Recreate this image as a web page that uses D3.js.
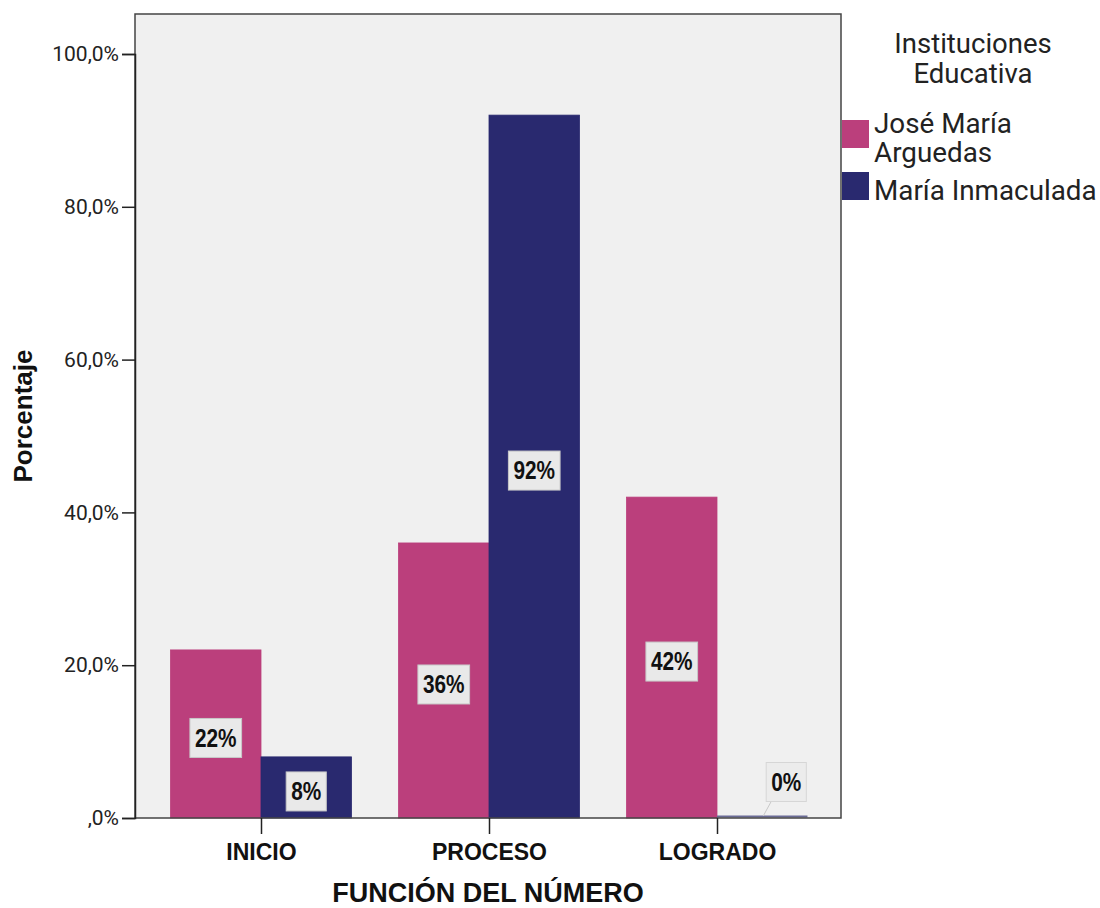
<!DOCTYPE html>
<html>
<head>
<meta charset="utf-8">
<script src="https://cdn.jsdelivr.net/npm/d3@7"></script>
<style>
  html, body { margin: 0; padding: 0; background: #ffffff; }
  svg { display: block; }
</style>
</head>
<body>
<svg id="chart" width="1100" height="908"></svg>
<script>
// Categories on the x axis and the two schools (series)
const categories = ["INICIO", "PROCESO", "LOGRADO"];
const seriesNames = ["José María Arguedas", "María Inmaculada"];
const legendLines = [["José María", "Arguedas"], ["María Inmaculada"]];
const joseMariaArguedas = [22, 36, 42];
const mariaInmaculada = [8, 92, 0];
const yTickValues = [0, 20, 40, 60, 80, 100];
const yTickLabels = [",0%", "20,0%", "40,0%", "60,0%", "80,0%", "100,0%"];
const seriesColors = ["#bb3f7c", "#29296f"];

const seriesValues = [joseMariaArguedas, mariaInmaculada];
const rows = categories.map((c, i) => ({
  category: c,
  values: seriesNames.map((s, j) => ({ series: s, idx: j, value: seriesValues[j][i] }))
}));

const svg = d3.select("#chart");
const plot = { left: 135, right: 841, top: 14, bottom: 818 };

const y = d3.scaleLinear().domain([0, 100]).range([plot.bottom, 54]);
const x0 = d3.scaleBand().domain(categories).range([147, 831]).padding(0);
const x1 = d3.scaleBand().domain(seriesNames).range([0, x0.bandwidth()])
  .paddingInner(0).paddingOuter(0.26);
const color = d3.scaleOrdinal().domain(seriesNames).range(seriesColors);

const regularFont = "Roboto, 'Liberation Sans', Arial, sans-serif";
const boldFont = "'Liberation Sans', Arial, sans-serif";

// Plot background
svg.append("rect")
  .attr("x", plot.left).attr("y", plot.top)
  .attr("width", plot.right - plot.left).attr("height", plot.bottom - plot.top)
  .attr("fill", "#f0f0f0");

// Bars
const groups = svg.append("g").selectAll("g")
  .data(rows).join("g")
  .attr("transform", d => `translate(${x0(d.category)},0)`);

groups.selectAll("rect")
  .data(d => d.values).join("rect")
  .attr("x", d => x1(d.series))
  .attr("y", d => y(d.value))
  .attr("width", x1.bandwidth())
  .attr("height", d => y(0) - y(d.value))
  .attr("fill", d => color(d.series))
  .attr("stroke", d => color(d.series))
  .attr("stroke-width", 0.8);

// Zero-height bars still show as a thin line on the baseline
groups.selectAll("line.zero")
  .data(d => d.values.filter(v => v.value === 0)).join("line")
  .attr("class", "zero")
  .attr("x1", d => x1(d.series)).attr("x2", d => x1(d.series) + x1.bandwidth())
  .attr("y1", y(0) - 1.5).attr("y2", y(0) - 1.5)
  .attr("stroke", "#6a6b95").attr("stroke-width", 2);

// Value labels in small boxes (condensed bold text)
const labels = svg.append("g");
const squeeze = 0.8;
rows.forEach(r => {
  r.values.forEach(d => {
    const cx = x0(r.category) + x1(d.series) + x1.bandwidth() / 2;
    const isZero = d.value === 0;
    const lx = isZero ? cx + 24 : cx;
    const ly = isZero ? y(0) - 36 : (y(d.value) + y(0)) / 2 + 4;
    const g = labels.append("g");
    const box = g.append("rect");
    const t = g.append("text")
      .attr("transform", `translate(${lx},${ly}) scale(${squeeze},1)`)
      .attr("text-anchor", "middle")
      .attr("dominant-baseline", "central")
      .attr("font-family", boldFont)
      .attr("font-weight", "bold")
      .attr("font-size", 26)
      .attr("fill", "#111")
      .text(d.value + "%");
    const bb = t.node().getBBox();
    const w = bb.width * squeeze + 10, h = 39;
    box.attr("x", lx - w / 2).attr("y", ly - h / 2)
      .attr("width", w).attr("height", h)
      .attr("fill", isZero ? "#ececec" : "#e9e9e9")
      .attr("stroke", isZero ? "#d6d6d6" : "#c8c8c8")
      .attr("stroke-width", 1);
    if (isZero) {
      g.insert("line", "rect")
        .attr("x1", lx - w / 2 + 5).attr("y1", ly + h / 2)
        .attr("x2", cx + 1).attr("y2", y(0) - 2)
        .attr("stroke", "#c8c8c8").attr("stroke-width", 1);
    }
  });
});

// Plot frame
svg.append("rect")
  .attr("x", plot.left).attr("y", plot.top)
  .attr("width", plot.right - plot.left).attr("height", plot.bottom - plot.top)
  .attr("fill", "none").attr("stroke", "#444").attr("stroke-width", 1.5);

// Y axis
const yAxis = d3.axisLeft(y)
  .tickValues(yTickValues)
  .tickFormat((v, i) => yTickLabels[i])
  .tickSize(13).tickPadding(3);
const gy = svg.append("g").attr("transform", `translate(${plot.left},0)`).call(yAxis);
gy.select(".domain").attr("stroke", "#222").attr("stroke-width", 1.5);
gy.selectAll(".tick line").attr("stroke", "#222").attr("stroke-width", 1.5);
gy.selectAll(".tick text")
  .attr("font-family", regularFont).attr("font-size", 21).attr("fill", "#222");

// X axis
const xAxis = d3.axisBottom(d3.scalePoint().domain(categories)
    .range([x0(categories[0]) + x0.bandwidth() / 2, x0(categories[2]) + x0.bandwidth() / 2]))
  .tickSize(16).tickPadding(10);
const gx = svg.append("g").attr("transform", `translate(0,${plot.bottom})`).call(xAxis);
gx.select(".domain").remove();
gx.selectAll(".tick line").attr("stroke", "#222").attr("stroke-width", 1.5);
gx.selectAll(".tick text")
  .attr("font-family", boldFont).attr("font-weight", "bold")
  .attr("font-size", 23).attr("fill", "#111");

// Axis titles
svg.append("text")
  .attr("x", (plot.left + plot.right) / 2).attr("y", 902)
  .attr("text-anchor", "middle")
  .attr("font-family", boldFont).attr("font-weight", "bold")
  .attr("font-size", 27).attr("fill", "#111")
  .text("FUNCIÓN DEL NÚMERO");

svg.append("text")
  .attr("transform", "translate(32,416) rotate(-90)")
  .attr("text-anchor", "middle")
  .attr("font-family", boldFont).attr("font-weight", "bold")
  .attr("font-size", 26).attr("fill", "#111")
  .text("Porcentaje");

// Legend
const legend = svg.append("g");
legend.append("text")
  .attr("x", 973).attr("y", 53)
  .attr("text-anchor", "middle")
  .attr("font-family", regularFont).attr("font-size", 27.5).attr("fill", "#222")
  .selectAll("tspan").data(["Instituciones", "Educativa"]).join("tspan")
  .attr("x", 973).attr("dy", (d, i) => i === 0 ? 0 : 30)
  .text(d => d);

const swatchTops = [120, 172];
const textBaselines = [133, 200];
seriesNames.forEach((s, i) => {
  legend.append("rect")
    .attr("x", 842).attr("y", swatchTops[i])
    .attr("width", 27).attr("height", 28)
    .attr("fill", color(s));
  legend.append("text")
    .attr("x", 874).attr("y", textBaselines[i])
    .attr("font-family", regularFont).attr("font-size", 27.8).attr("fill", "#222")
    .selectAll("tspan").data(legendLines[i]).join("tspan")
    .attr("x", 874).attr("dy", (d, k) => k === 0 ? 0 : 29)
    .text(d => d);
});
</script>
</body>
</html>
